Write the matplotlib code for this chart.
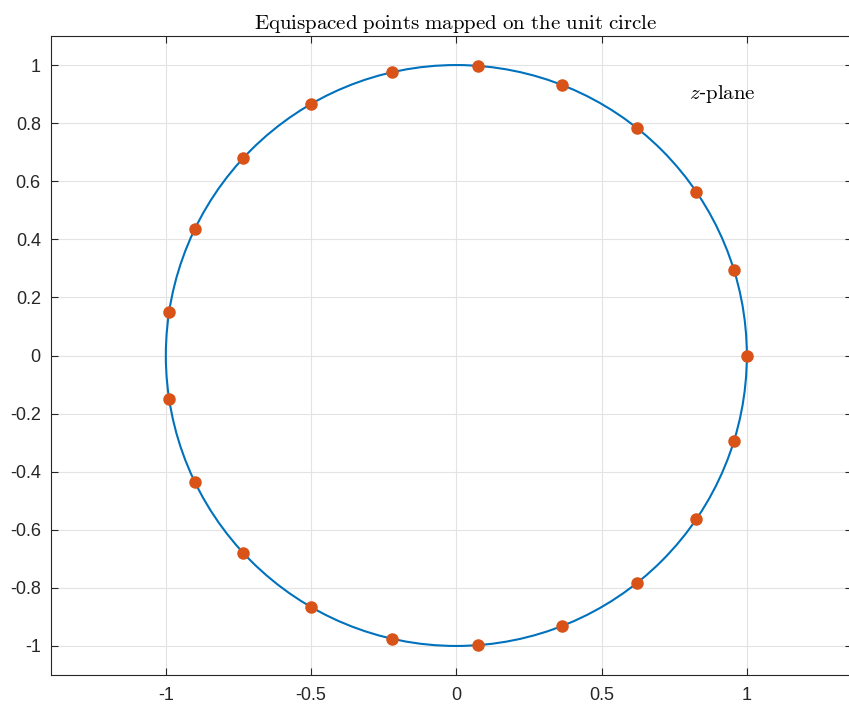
#!/usr/bin/env python
# Equispaced points on the unit circle, MATLAB-like look.
import matplotlib
matplotlib.use("Agg")
import matplotlib.pyplot as plt
from matplotlib.patches import Circle

plt.rcParams["mathtext.fontset"] = "cm"
plt.rcParams["axes.unicode_minus"] = False
plt.rcParams["font.family"] = ["Liberation Sans", "DejaVu Sans"]

# points (x, y)
pts_x = [1.000, 0.956, 0.826, 0.623, 0.365, 0.075, -0.223, -0.500, -0.733, -0.901, -0.989,
         -0.989, -0.901, -0.733, -0.500, -0.223, 0.075, 0.365, 0.623, 0.826, 0.956]
pts_y = [0.000, 0.295, 0.563, 0.782, 0.931, 0.997, 0.975, 0.866, 0.680, 0.434, 0.149,
         -0.149, -0.434, -0.680, -0.866, -0.975, -0.997, -0.931, -0.782, -0.563, -0.295]
radius = 1.0

xticks = [-1, -0.5, 0, 0.5, 1]
xticklabels = ["-1", "-0.5", "0", "0.5", "1"]
yticks = [-1, -0.8, -0.6, -0.4, -0.2, 0, 0.2, 0.4, 0.6, 0.8, 1]
yticklabels = ["-1", "-0.8", "-0.6", "-0.4", "-0.2", "0", "0.2", "0.4", "0.6", "0.8", "1"]

W, H = 849, 704
fig = plt.figure(figsize=(W / 100, H / 100), dpi=100)
ax = fig.add_axes([50.5 / W, (H - 675) / H, (852 - 50.5) / W, (675 - 36) / H])

ax.add_patch(Circle((0, 0), radius, fill=False, color="#0072BD", lw=1.5, zorder=3))
ax.plot(pts_x, pts_y, "o", color="#D95319", ms=8, zorder=4)

ax.set_xlim(-1.397, 1.362)
ax.set_ylim(-1.1, 1.1)
ax.set_xticks(xticks)
ax.set_xticklabels(xticklabels)
ax.set_yticks(yticks)
ax.set_yticklabels(yticklabels)
ax.tick_params(direction="in", length=5, width=0.8, color="#262626",
               labelsize=13, labelcolor="#262626", top=True, right=True)
ax.tick_params(axis="x", pad=9)
ax.tick_params(axis="y", pad=7)
ax.grid(True, color="#e3e3e3", lw=0.8)
ax.set_axisbelow(True)
for s in ax.spines.values():
    s.set_color("#262626")
    s.set_linewidth(0.8)

ax.set_title(r"$\mathrm{Equispaced\ points\ mapped\ on\ the\ unit\ circle}$",
             fontsize=15, pad=5, x=(456 - 50.5) / (852 - 50.5))
ax.text(0.8, 0.9, r"$z$-$\mathrm{plane}$", fontsize=15, ha="left", va="center")

fig.savefig("out.png", dpi=100)
